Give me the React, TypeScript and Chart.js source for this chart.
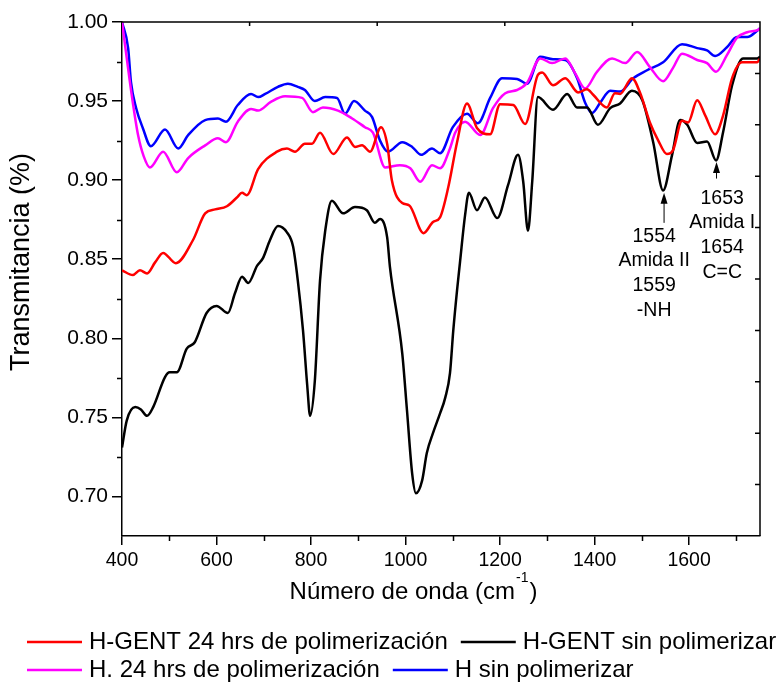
import React, { useEffect, useRef } from 'react';
import { Chart, registerables } from 'chart.js';

Chart.register(...registerables);

const FONT = '"Liberation Sans", Arial, Helvetica, sans-serif';

// ---- Data ----
const RED_X = [400,423,438,453,470,487,514,550,576,597,622,643,654,664,688,728,749,766,787,802,819,847,876,893,908,925,948,961,971,993,1008,1038,1058,1073,1090,1109,1130,1151,1179,1200,1228,1253,1280,1289,1312,1338,1365,1384,1397,1426,1443,1454,1479,1496,1517,1534,1553,1566,1585,1598,1617,1634,1655,1672,1691,1712,1729,1744,1750];
const RED_Y = [0.843,0.840,0.843,0.841,0.848,0.854,0.8475,0.862,0.879,0.8815,0.8835,0.889,0.892,0.8905,0.907,0.918,0.920,0.918,0.923,0.923,0.930,0.9165,0.927,0.921,0.922,0.918,0.9335,0.923,0.900,0.8855,0.884,0.8665,0.8735,0.8765,0.895,0.924,0.9485,0.933,0.929,0.948,0.9475,0.9355,0.9665,0.968,0.960,0.9645,0.9555,0.9575,0.954,0.946,0.955,0.9545,0.9645,0.9555,0.9365,0.9255,0.9165,0.919,0.9375,0.9365,0.9505,0.941,0.929,0.941,0.9645,0.9745,0.9745,0.9745,0.977];

const BLACK_X = [400,410,428,440,453,466,491,501,516,537,554,579,600,624,639,654,667,686,698,713,730,749,762,772,783,792,798,808,819,830,844,868,893,918,935,946,961,967,993,1003,1014,1022,1035,1045,1058,1073,1084,1094,1101,1109,1115,1126,1134,1151,1168,1194,1217,1238,1249,1259,1268,1280,1312,1342,1363,1384,1407,1433,1454,1479,1501,1524,1545,1564,1581,1596,1617,1638,1657,1672,1691,1714,1744,1750];
const BLACK_Y = [0.731,0.748,0.7565,0.755,0.751,0.7565,0.7755,0.7785,0.7785,0.7935,0.7975,0.816,0.8205,0.816,0.8285,0.839,0.835,0.846,0.8505,0.862,0.871,0.867,0.858,0.8365,0.805,0.770,0.751,0.773,0.8365,0.868,0.887,0.879,0.883,0.881,0.873,0.8755,0.864,0.845,0.7905,0.7545,0.7145,0.702,0.710,0.7275,0.740,0.7525,0.7625,0.778,0.805,0.8305,0.8475,0.878,0.892,0.881,0.889,0.876,0.897,0.916,0.899,0.868,0.899,0.9525,0.9445,0.9545,0.946,0.946,0.935,0.9455,0.9485,0.9565,0.9505,0.924,0.8935,0.916,0.938,0.935,0.9235,0.9245,0.9125,0.9305,0.960,0.977,0.977,0.978];

const MAG_X = [400,411,420,434,446,459,487,516,540,576,603,620,645,673,688,715,745,781,804,825,857,887,914,931,957,988,1010,1031,1056,1073,1094,1105,1126,1158,1185,1211,1236,1257,1285,1310,1338,1359,1380,1405,1437,1465,1490,1517,1545,1566,1585,1617,1638,1657,1680,1701,1723,1746,1750];
const MAG_Y = [1.0,0.975,0.955,0.9285,0.915,0.908,0.918,0.905,0.914,0.922,0.9265,0.924,0.937,0.945,0.944,0.9495,0.953,0.952,0.943,0.946,0.944,0.939,0.9335,0.930,0.908,0.9095,0.9075,0.899,0.9095,0.9075,0.920,0.930,0.937,0.9285,0.9455,0.955,0.957,0.9615,0.977,0.974,0.977,0.9675,0.958,0.9685,0.977,0.974,0.981,0.9715,0.9625,0.971,0.980,0.976,0.974,0.9685,0.979,0.990,0.9935,0.995,0.996];

const BLUE_X = [400,413,419,430,444,461,491,519,540,576,603,620,645,673,688,703,730,751,772,787,808,830,855,872,891,914,929,946,963,993,1014,1033,1056,1073,1100,1130,1153,1179,1204,1236,1257,1285,1312,1338,1363,1380,1395,1412,1433,1454,1482,1511,1545,1585,1617,1638,1655,1680,1701,1723,1746,1750];
const BLUE_Y = [1.0,0.9835,0.962,0.9455,0.933,0.9215,0.932,0.920,0.9285,0.938,0.939,0.937,0.9475,0.9545,0.9525,0.9545,0.959,0.961,0.959,0.957,0.950,0.9525,0.952,0.942,0.950,0.944,0.940,0.925,0.918,0.924,0.921,0.916,0.920,0.917,0.9335,0.942,0.936,0.952,0.9645,0.964,0.961,0.978,0.9765,0.976,0.9645,0.949,0.9425,0.949,0.9565,0.956,0.9645,0.9695,0.9745,0.986,0.9835,0.982,0.9785,0.984,0.9905,0.9905,0.995,0.996];

const SERIES_LABELS = [
  'H-GENT 24 hrs de polimerización',
  'H-GENT sin polimerizar',
  'H. 24 hrs de polimerización',
  'H sin polimerizar',
];
const SERIES_COLORS = ['#ff0000', '#000000', '#ff00ff', '#0000ff'];
const LEGEND_ROWS = [[0, 1], [2, 3]];

const X_TICKS = [400, 600, 800, 1000, 1200, 1400, 1600];
const X_MINOR = [500, 700, 900, 1100, 1300, 1500, 1700];
const Y_TICKS = [0.70, 0.75, 0.80, 0.85, 0.90, 0.95, 1.00];
const Y_MINOR = [0.725, 0.775, 0.825, 0.875, 0.925, 0.975];

const X_TITLE = 'Número de onda (cm';
const X_TITLE_SUP = '-1';
const Y_TITLE = 'Transmitancia (%)';

// annotations (arrows at peaks + labels)
const ANNOT_X = [1547, 1658];
const ANNOT_TIP = [0.892, 0.9115];
const ANNOT_TAIL = [0.873, 0.901];
const ANNOT_TEXT_X = [1526, 1670];
const ANNOT_TEXT_Y = [0.8645, 0.8886];
const ANNOT_TEXT = [
  ['1554', 'Amida II', '1559', '-NH'],
  ['1653', 'Amida I', '1654', 'C=C'],
];

const toPoints = (xs: number[], ys: number[]) => xs.map((x, i) => ({ x, y: ys[i] }));

const decorPlugin = {
  id: 'decor',
  afterDraw(chart: any) {
    const { ctx, chartArea: a, scales } = chart;
    const xs = scales.x;
    const ys = scales.y;
    ctx.save();
    ctx.strokeStyle = '#000';
    ctx.fillStyle = '#000';
    ctx.lineWidth = 1.5;
    // frame top & right
    ctx.beginPath();
    ctx.moveTo(a.left, a.top);
    ctx.lineTo(a.right, a.top);
    ctx.lineTo(a.right, a.bottom);
    ctx.stroke();
    // minor ticks (outward)
    ctx.beginPath();
    X_MINOR.forEach((v) => {
      const p = Math.round(xs.getPixelForValue(v)) + 0.5;
      ctx.moveTo(p, a.bottom);
      ctx.lineTo(p, a.bottom + 5);
    });
    Y_MINOR.forEach((v) => {
      const p = Math.round(ys.getPixelForValue(v)) + 0.5;
      ctx.moveTo(a.left, p);
      ctx.lineTo(a.left - 5, p);
    });
    // mirrored axes ticks (inward)
    for (let i = 1; i < 5; i++) {
      const p = a.left + (a.width * i) / 5;
      ctx.moveTo(p, a.top);
      ctx.lineTo(p, a.top + 4);
    }
    for (let i = 1; i < 10; i++) {
      const p = a.top + (a.height * i) / 10;
      ctx.moveTo(a.right, p);
      ctx.lineTo(a.right - 5, p);
    }
    ctx.stroke();

    // annotations
    ANNOT_X.forEach((xv, k) => {
      const px = xs.getPixelForValue(xv);
      const tip = ys.getPixelForValue(ANNOT_TIP[k]);
      const tail = ys.getPixelForValue(ANNOT_TAIL[k]);
      ctx.lineWidth = 1;
      ctx.beginPath();
      ctx.moveTo(px, tip + 8);
      ctx.lineTo(px, tail);
      ctx.stroke();
      ctx.beginPath();
      ctx.moveTo(px, tip);
      ctx.lineTo(px - 3.5, tip + 11);
      ctx.lineTo(px + 3.5, tip + 11);
      ctx.closePath();
      ctx.fill();
      ctx.font = `19.5px ${FONT}`;
      ctx.textAlign = 'center';
      ctx.textBaseline = 'middle';
      const tx = xs.getPixelForValue(ANNOT_TEXT_X[k]);
      const ty = ys.getPixelForValue(ANNOT_TEXT_Y[k]);
      ANNOT_TEXT[k].forEach((s, i) => ctx.fillText(s, tx, ty + i * 24.7));
    });

    // y title
    ctx.save();
    ctx.translate(22, a.top + 240);
    ctx.rotate(-Math.PI / 2);
    ctx.font = `27px ${FONT}`;
    ctx.textAlign = 'center';
    ctx.textBaseline = 'middle';
    ctx.fillText(Y_TITLE, 0, 0);
    ctx.restore();

    // x title with superscript
    ctx.textAlign = 'left';
    ctx.textBaseline = 'alphabetic';
    const mainFont = `24px ${FONT}`;
    const supFont = `14px ${FONT}`;
    ctx.font = mainFont;
    const w1 = ctx.measureText(X_TITLE).width;
    const w3 = ctx.measureText(')').width;
    ctx.font = supFont;
    const w2 = ctx.measureText(X_TITLE_SUP).width;
    const total = w1 + w2 + w3 + 2;
    const cx = a.left + 291.5;
    const base = a.bottom + 63;
    let sx = cx - total / 2;
    ctx.font = mainFont;
    ctx.fillText(X_TITLE, sx, base);
    sx += w1 + 1;
    ctx.font = supFont;
    ctx.fillText(X_TITLE_SUP, sx, base - 17);
    sx += w2 + 1;
    ctx.font = mainFont;
    ctx.fillText(')', sx, base);

    // legend
    const rowY = [642, 670];
    ctx.font = `24px ${FONT}`;
    ctx.textBaseline = 'middle';
    LEGEND_ROWS.forEach((row, r) => {
      let x = 27;
      const y = rowY[r];
      row.forEach((di) => {
        const ds = chart.data.datasets[di];
        ctx.strokeStyle = ds.borderColor;
        ctx.lineWidth = 2.5;
        ctx.beginPath();
        ctx.moveTo(x, y);
        ctx.lineTo(x + 55, y);
        ctx.stroke();
        ctx.fillStyle = '#000';
        ctx.fillText(ds.label, x + 62, y);
        x += 62 + ctx.measureText(ds.label).width + 13;
      });
    });
    ctx.restore();
  },
};

export default function App() {
  const ref = useRef<HTMLCanvasElement | null>(null);

  useEffect(() => {
    if (!ref.current) return;
    const series = [
      toPoints(RED_X, RED_Y),
      toPoints(BLACK_X, BLACK_Y),
      toPoints(MAG_X, MAG_Y),
      toPoints(BLUE_X, BLUE_Y),
    ];
    const chart = new Chart(ref.current, {
      type: 'line',
      data: {
        datasets: series.map((d, i) => ({
          label: SERIES_LABELS[i],
          data: d,
          borderColor: SERIES_COLORS[i],
          backgroundColor: SERIES_COLORS[i],
          borderWidth: 2.5,
          pointRadius: 0,
          fill: false,
          cubicInterpolationMode: 'monotone' as const,
        })),
      },
      options: {
        animation: false,
        responsive: false,
        maintainAspectRatio: false,
        layout: { padding: { left: 0, top: 22, right: 21, bottom: 0 } },
        plugins: { legend: { display: false }, tooltip: { enabled: false } },
        font: { family: FONT },
        scales: {
          x: {
            type: 'linear',
            min: 400,
            max: 1750,
            afterBuildTicks: (s: any) => {
              s.ticks = X_TICKS.map((v) => ({ value: v }));
            },
            afterFit: (s: any) => {
              s.height = 147;
            },
            ticks: {
              autoSkip: false,
              maxRotation: 0,
              padding: 4,
              color: '#000',
              font: { family: FONT, size: 19.5 },
              callback: (v: any) => String(v),
            },
            grid: { drawOnChartArea: false, color: '#000', lineWidth: 1.5, tickLength: 9 },
            border: { color: '#000', width: 1.5 },
          },
          y: {
            type: 'linear',
            min: 0.675,
            max: 1.0,
            afterBuildTicks: (s: any) => {
              s.ticks = Y_TICKS.map((v) => ({ value: v }));
            },
            afterFit: (s: any) => {
              s.width = 122;
            },
            ticks: {
              padding: 4,
              color: '#000',
              font: { family: FONT, size: 21 },
              callback: (v: any) => Number(v).toFixed(2),
            },
            grid: { drawOnChartArea: false, color: '#000', lineWidth: 1.5, tickLength: 10 },
            border: { color: '#000', width: 1.5 },
          },
        },
      } as any,
      plugins: [decorPlugin],
    });
    return () => chart.destroy();
  }, []);

  return (
    <div style={{ position: 'absolute', left: 0, top: 0, width: 781, height: 683, background: '#fff' }}>
      <canvas ref={ref} width={781} height={683} style={{ display: 'block' }} />
    </div>
  );
}
